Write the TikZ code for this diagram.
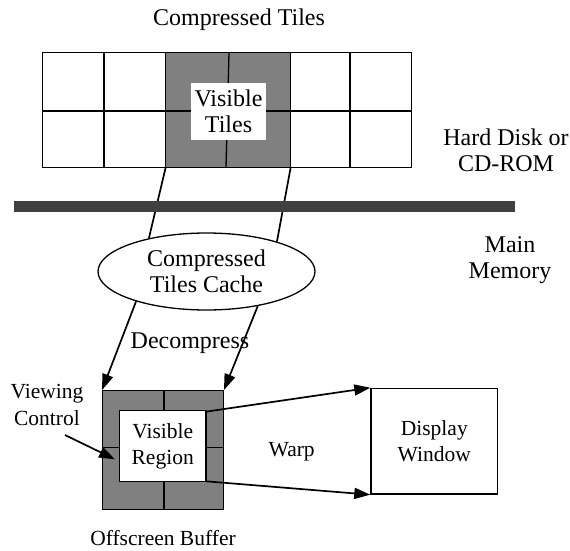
\documentclass[tikz,border=0pt]{standalone}
\usepackage{fontspec}
\setmainfont{Liberation Serif}
\usetikzlibrary{arrows.meta,shapes.geometric}
\definecolor{tilegray}{RGB}{128,128,128}
\definecolor{bardark}{RGB}{64,64,64}
\begin{document}
\begin{tikzpicture}[x=1pt,y=-1pt,
 big/.style={font=\fontsize{24}{26}\selectfont, align=center, inner sep=0pt},
 small/.style={font=\fontsize{21.5}{26.5}\selectfont, align=center, inner sep=0pt},
 thinl/.style={line width=1.3pt},
 arr/.style={line width=1.7pt, -{Triangle[length=16pt,width=11pt]}},
 link/.style={line width=1.7pt}]
\useasboundingbox (0,0) rectangle (570,551);
% title
\node[big] (title) at (239,20) {Compressed Tiles};
% tile grid
\fill[tilegray] (165.7,52.7) rectangle (290.7,167.3);
\draw[thinl] (42.7,52.7) rectangle (411.7,167.3);
\draw[thinl] (42.7,111) -- (411.7,111);
\draw[thinl] (104,52.7) -- (104,167.3);
\draw[thinl] (165.7,52.7) -- (165.7,167.3);
\draw[thinl] (229,52.7) -- (226,167.3);
\draw[thinl] (290.7,52.7) -- (290.7,167.3);
\draw[thinl] (350,52.7) -- (350,167.3);
\node[big, fill=white, minimum width=75pt, minimum height=57pt] (vt) at (228.5,111.5) {Visible\\Tiles};
\coordinate (gl) at (165.7,167.3);
\coordinate (gr) at (290.7,167.3);
% cache
\node[ellipse, draw, thinl, minimum width=217pt, minimum height=77pt, big] (cache) at (206.5,271.5) {Compressed\\Tiles Cache};
\draw[link] (gl) -- (cache.150);
\draw[link] (gr) -- (cache.23);
% bar
\fill[bardark] (14,201) rectangle (515,211.7);
\node[big] (hd) at (506,150.5) {Hard Disk or\\CD-ROM};
\node[big] (mm) at (510,260) {Main\\Memory};
% decompress
\node[big] (dec) at (190,343) {Decompress};
% buffer
\node[draw, thinl, fill=tilegray, minimum width=120.6pt, minimum height=118.6pt, inner sep=0pt] (buf) at (163,450) {};
\draw[thinl] (164,390.7) -- (164,411);
\draw[thinl] (164,481) -- (164,509.3);
\draw[thinl] (102.7,447.3) -- (120,447.3);
\draw[thinl] (205,447.3) -- (223.3,447.3);
\node[draw, thinl, fill=white, minimum width=86.7pt, minimum height=71pt, small] (vis) at (162.7,446.2) {Visible\\Region};
\draw[arr] (cache.203) -- (buf.north west);
\draw[arr] (cache.-34) -- (buf.north east);
% display
\node[draw, thinl, minimum width=126.7pt, minimum height=105.7pt, small] (disp) at (434.3,441.2) {Display\\Window};
\draw[arr] ([yshift=-1.5pt]vis.north east) -- (disp.north west);
\draw[arr] ([yshift=1pt]vis.south east) -- (disp.south west);
\node[small] (warp) at (291.7,451.7) {Warp};
% viewing control
\node[small] (vc) at (47,405) {Viewing\\Control};
\coordinate (vcs) at (65,435);
\coordinate (vct) at (115,459.3);
\draw[arr] (vcs) -- (vct);
% offscreen label
\node[small] (ob) at (163,538) {Offscreen Buffer};
\end{tikzpicture}
\end{document}
